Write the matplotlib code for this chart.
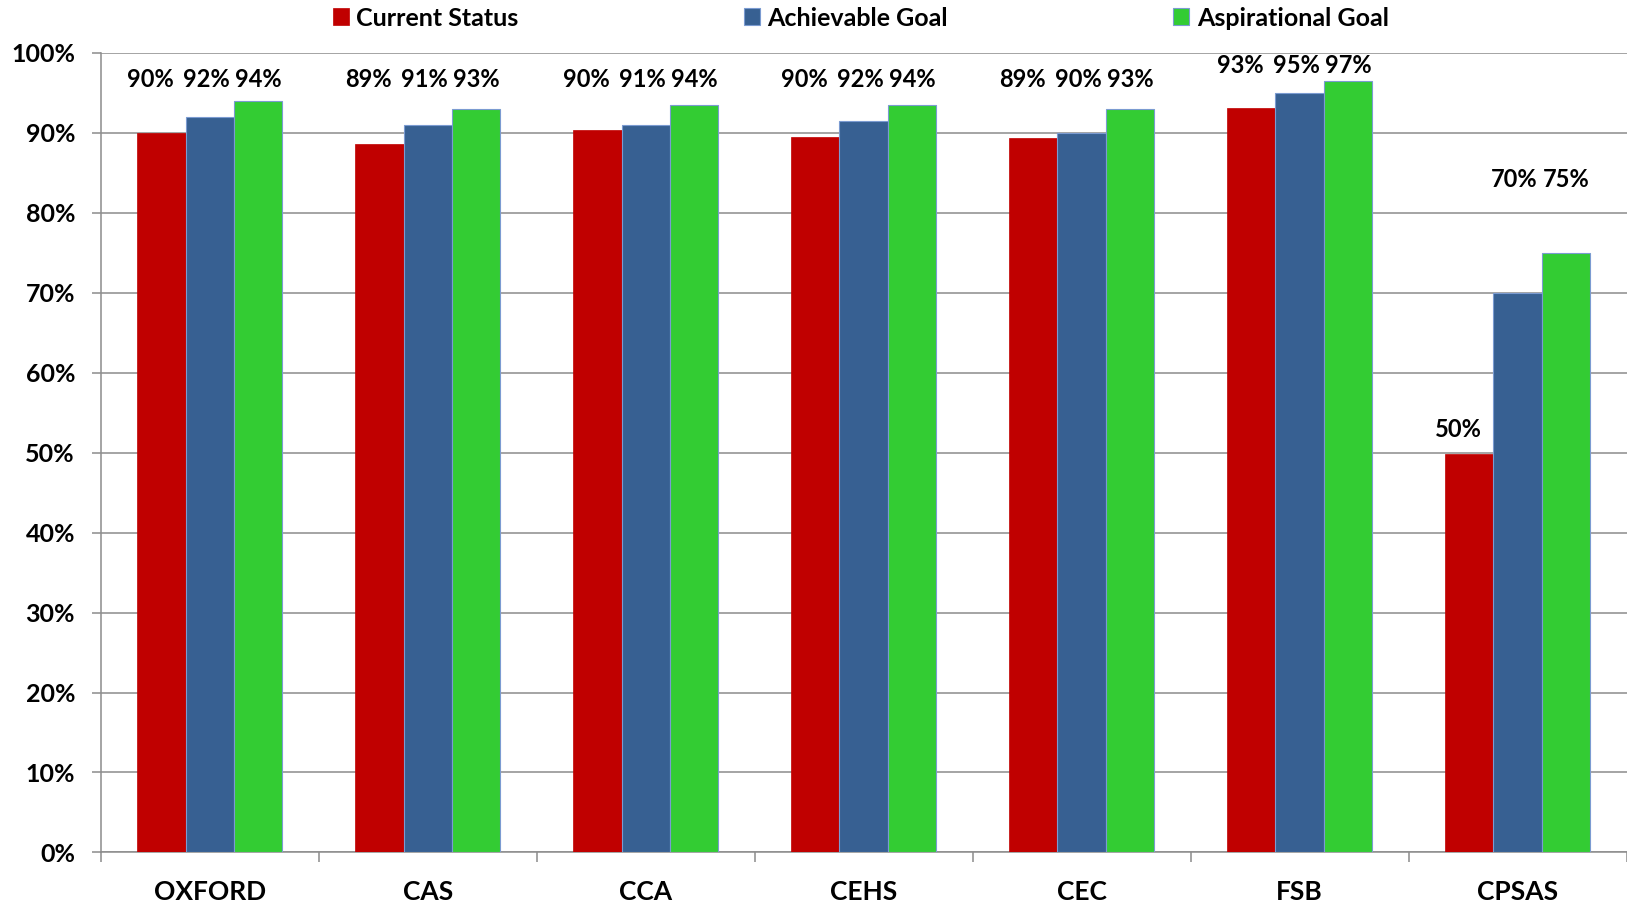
import matplotlib
matplotlib.use('Agg')
import matplotlib.pyplot as plt
import numpy as np

plt.rcParams['font.family'] = ['Lato', 'DejaVu Sans']
plt.rcParams['font.weight'] = 'bold'

# data (percent)
schools = ['OXFORD', 'CAS', 'CCA', 'CEHS', 'CEC', 'FSB', 'CPSAS']
current = [90.0, 88.6, 90.3, 89.5, 89.3, 93.1, 49.8]
achievable = [92.0, 90.9, 90.9, 91.5, 89.9, 94.9, 70.0]
aspirational = [94.0, 93.0, 93.5, 93.5, 93.0, 96.5, 75.0]
series_names = ['Current Status', 'Achievable Goal', 'Aspirational Goal']

# where the value labels sit (as placed in the original)
cur_label_y = [96.7, 96.7, 96.7, 96.7, 96.7, 98.4, 52.9]
ach_label_y = [96.7, 96.7, 96.7, 96.7, 96.7, 98.4, 84.1]
asp_label_y = [96.7, 96.7, 96.7, 96.7, 96.7, 98.4, 84.1]

red = '#C00000'
blue = '#376092'
green = '#33CC33'
edge = '#7B9BD1'
grid = '#8C8C8C'

fig = plt.figure(figsize=(16.27, 9.02), dpi=100)
ax = fig.add_axes([0.0619, 0.0549, 0.9379, 0.8867])

x = np.arange(len(schools))
w = 0.222
b1 = ax.bar(x - w, current, w, color=red, edgecolor=red, linewidth=0.5, zorder=3, label=series_names[0])
b2 = ax.bar(x, achievable, w, color=blue, edgecolor=edge, linewidth=0.8, zorder=3, label=series_names[1])
b3 = ax.bar(x + w, aspirational, w, color=green, edgecolor=edge, linewidth=0.8, zorder=3, label=series_names[2])

# value labels
for vals, ys, dx, shift in [(current, cur_label_y, -w, -11),
                            (achievable, ach_label_y, 0, -3),
                            (aspirational, asp_label_y, w, 0)]:
    for i in range(len(vals)):
        ax.annotate('%d%%' % int(vals[i] + 0.5), (x[i] + dx, ys[i]),
                    xytext=(shift, 0), textcoords='offset pixels',
                    ha='center', va='center', fontsize=17, fontweight='bold')

ax.set_xlim(-0.5, len(schools) - 0.5)
ax.set_ylim(0, 100)
ax.set_yticks(np.arange(0, 101, 10))
ax.set_yticklabels(['%d%%' % v for v in range(0, 101, 10)])
ax.yaxis.grid(True, color=grid, linewidth=1.1, zorder=0)
ax.set_axisbelow(True)

ax.set_xticks(x)
ax.set_xticklabels(schools)
ax.set_xticks(np.arange(-0.5, len(schools)), minor=True)
ax.tick_params(axis='x', which='major', length=0, pad=20, labelsize=19)
ax.tick_params(axis='x', which='minor', length=7.5, width=1.1, color=grid)
ax.tick_params(axis='y', length=6.5, width=1.1, color=grid, pad=12, labelsize=18)

for s in ['top', 'right']:
    ax.spines[s].set_visible(False)
for s in ['left', 'bottom']:
    ax.spines[s].set_color(grid)
    ax.spines[s].set_linewidth(1.1)

fig.legend(handles=[b1, b2, b3], loc='center', bbox_to_anchor=(0.5290, 0.98),
           ncol=3, frameon=False, fontsize=18, handlelength=0.65, handleheight=0.65,
           handletextpad=0.3, columnspacing=9.0, borderaxespad=0, borderpad=0)

fig.savefig('out.png', dpi=100)
